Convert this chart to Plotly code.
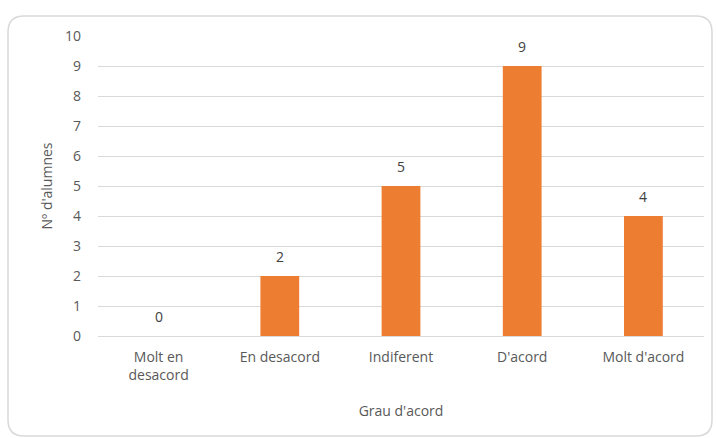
import plotly.graph_objects as go

categories = ["Molt en<br>desacord", "En desacord", "Indiferent", "D'acord", "Molt d'acord"]
values = [0, 2, 5, 9, 4]
y_ticks = list(range(0, 11))

W, H = 716, 438
ml, mr, mt, mb = 98, 12, 36, 102
pw, ph = W - ml - mr, H - mt - mb

def px(x):
    return (x - ml) / pw

def py(y):
    return 1 - (y - mt) / ph

font = "Open Sans, Liberation Sans, sans-serif"
grey = "#595959"

fig = go.Figure()
fig.add_trace(go.Bar(x=categories, y=values, marker=dict(color="#ED7D31", line=dict(width=0)),
                     hoverinfo="x+y"))

for c, v in zip(categories, values):
    fig.add_annotation(x=c, y=v, text=str(v), showarrow=False, yanchor="middle", yshift=20,
                       font=dict(family=font, size=14, color="#404040"))

# rounded chart border
x0, x1, y0, y1, r = 8, 712, 16, 436, 16
path = (f"M {px(x0+r)} {py(y0)} L {px(x1-r)} {py(y0)} "
        f"Q {px(x1)} {py(y0)} {px(x1)} {py(y0+r)} L {px(x1)} {py(y1-r)} "
        f"Q {px(x1)} {py(y1)} {px(x1-r)} {py(y1)} L {px(x0+r)} {py(y1)} "
        f"Q {px(x0)} {py(y1)} {px(x0)} {py(y1-r)} L {px(x0)} {py(y0+r)} "
        f"Q {px(x0)} {py(y0)} {px(x0+r)} {py(y0)} Z")
fig.add_shape(type="path", path=path, xref="paper", yref="paper",
              line=dict(color="#D9D9D9", width=1.5), layer="below")

fig.update_layout(
    width=W, height=H,
    margin=dict(l=ml, r=mr, t=mt, b=mb),
    paper_bgcolor="white", plot_bgcolor="white",
    bargap=0.68,
    showlegend=False,
    font=dict(family=font, size=14, color=grey),
    xaxis=dict(showgrid=False, showline=False, ticks="", ticklabelstandoff=11,
               tickfont=dict(size=14, color=grey),
               title=dict(text="Grau d'acord", font=dict(size=14, color=grey), standoff=22)),
    yaxis=dict(range=[0, 10], tickvals=y_ticks, showgrid=True, gridcolor="#D9D9D9", gridwidth=1,
               zeroline=True, zerolinecolor="#D9D9D9", zerolinewidth=1,
               ticks="", ticklabelstandoff=16, tickfont=dict(size=14, color=grey),
               title=dict(text="Nº d'alumnes", font=dict(size=14, color=grey), standoff=9)),
)

fig.write_html("out.html")
